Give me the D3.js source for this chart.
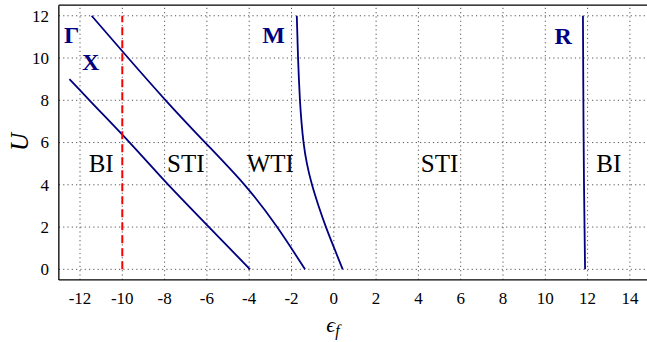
<!DOCTYPE html>
<html>
<head>
<meta charset="utf-8">
<script src="https://cdn.jsdelivr.net/npm/d3@7"></script>
<style>
  body { margin: 0; background: #fff; }
  .grid line { stroke: #555; stroke-width: 1; stroke-dasharray: 1.2,3.1; }
  .curve { fill: none; stroke: #000080; stroke-width: 1.8; }
</style>
</head>
<body>
<div id="chart"></div>
<script>
// phase boundaries, U vs eps_f
var xCurveEps = [-12.5, -11.55, -9.65, -7.82, -5.9, -3.96];
var xCurveU = [9, 8, 6, 4, 2, 0];

var gammaCurveEps = [-11.45, -9.72, -7.95, -6.08, -4.22, -2.68, -1.36];
var gammaCurveU = [12, 10, 8, 6, 4, 2, 0];

var mCurveEps = [-1.75, -1.72, -1.69, -1.65, -1.6, -1.53, -1.43, -1.27, -1.03, -0.72, -0.37, 0.02, 0.42];
var mCurveU = [12, 11, 10, 9, 8, 7, 6, 5, 4, 3, 2, 1, 0];

var rCurveEps = [11.78, 11.8, 11.83, 11.88];
var rCurveU = [12, 8, 4, 0];

// red dashed line
var dashedEps = -10;
var dashedU = [0, 12];

// text labels
var regionNames = ["BI", "STI", "WTI", "STI", "BI"];
var regionEps = [-11, -7, -3, 5, 13];
var regionU = [5, 5, 5, 5, 5];

var pointNames = ["\u0393", "X", "M", "R"];
var pointEps = [-12.4, -11.5, -2.85, 10.85];
var pointU = [11.1, 9.8, 11.1, 11.05];

var xTicks = [-12, -10, -8, -6, -4, -2, 0, 2, 4, 6, 8, 10, 12, 14];
var yTicks = [0, 2, 4, 6, 8, 10, 12];

var width = 647, height = 342;
var serif = "Liberation Serif, DejaVu Serif, serif";

var svg = d3.select("#chart").append("svg")
  .attr("width", width)
  .attr("height", height)
  .attr("font-family", serif);

var xScale = d3.scaleLinear().domain([-13, 15]).range([58.85, 651.05]);
var yScale = d3.scaleLinear().domain([-0.5, 12.5]).range([279.9, 5.2]);

// grid
var grid = svg.append("g").attr("class", "grid");
grid.selectAll(".vx").data(xTicks).enter().append("line")
  .attr("x1", d => xScale(d)).attr("x2", d => xScale(d))
  .attr("y1", yScale(-0.5)).attr("y2", yScale(12.5));
grid.selectAll(".hy").data(yTicks).enter().append("line")
  .attr("x1", xScale(-13)).attr("x2", xScale(15))
  .attr("y1", d => yScale(d)).attr("y2", d => yScale(d));

// curves
function pairs(xs, ys) {
  return xs.map(function (x, i) { return [x, ys[i]]; });
}
function lineWith(curve) {
  return d3.line()
    .x(d => xScale(d[0]))
    .y(d => yScale(d[1]))
    .curve(curve);
}

[[xCurveEps, xCurveU, d3.curveMonotoneY],
 [gammaCurveEps, gammaCurveU, d3.curveNatural],
 [mCurveEps, mCurveU, d3.curveNatural],
 [rCurveEps, rCurveU, d3.curveNatural]].forEach(function (c) {
  // points bottom to top
  svg.append("path")
    .attr("class", "curve")
    .attr("d", lineWith(c[2])(pairs(c[0], c[1]).reverse()));
});

svg.append("line")
  .attr("x1", xScale(dashedEps)).attr("x2", xScale(dashedEps))
  .attr("y1", yScale(dashedU[0])).attr("y2", yScale(dashedU[1]))
  .style("stroke", "#ff0000")
  .style("stroke-width", 2)
  .style("stroke-dasharray", "8,5");

// axis frame (right side is cut off by the picture)
var frame = svg.append("g").style("stroke", "#000").style("stroke-width", 1.3);
frame.append("line")
  .attr("x1", xScale(-13)).attr("x2", xScale(-13))
  .attr("y1", yScale(-0.5)).attr("y2", yScale(12.5));
frame.append("line")
  .attr("x1", xScale(-13)).attr("x2", xScale(15))
  .attr("y1", yScale(-0.5)).attr("y2", yScale(-0.5));
frame.append("line")
  .attr("x1", xScale(-13)).attr("x2", xScale(15))
  .attr("y1", yScale(12.5)).attr("y2", yScale(12.5));

// tick labels
svg.selectAll(".xt").data(xTicks).enter().append("text")
  .attr("font-family", serif)
  .attr("font-size", 17)
  .attr("x", d => xScale(d))
  .attr("y", 304)
  .attr("text-anchor", "middle")
  .text(d => d);

svg.selectAll(".yt").data(yTicks).enter().append("text")
  .attr("font-family", serif)
  .attr("font-size", 17)
  .attr("x", 49)
  .attr("y", d => yScale(d) + 5.8)
  .attr("text-anchor", "end")
  .text(d => d);

// axis titles
svg.append("text")
  .attr("transform", "translate(28,142) rotate(-90)")
  .attr("text-anchor", "middle")
  .attr("font-family", serif)
  .attr("font-style", "italic")
  .attr("font-size", 25)
  .text("U");

var xt = svg.append("text")
  .attr("x", 333)
  .attr("y", 332)
  .attr("text-anchor", "middle")
  .attr("font-family", serif)
  .attr("font-style", "italic")
  .attr("font-size", 22);
xt.append("tspan").text("\u03f5");
xt.append("tspan").attr("dy", 4).attr("font-size", 16).text("f");

// region labels
svg.selectAll(".region").data(regionNames).enter().append("text")
  .attr("font-family", serif)
  .attr("font-size", 25)
  .attr("x", (d, i) => xScale(regionEps[i]))
  .attr("y", (d, i) => yScale(regionU[i]) + 8.3)
  .attr("text-anchor", "middle")
  .text(d => d);

svg.selectAll(".pt").data(pointNames).enter().append("text")
  .attr("font-family", serif)
  .attr("font-size", 24)
  .attr("font-weight", "bold")
  .attr("fill", "#000080")
  .attr("x", (d, i) => xScale(pointEps[i]))
  .attr("y", (d, i) => yScale(pointU[i]) + 8)
  .attr("text-anchor", "middle")
  .text(d => d);
</script>
</body>
</html>
